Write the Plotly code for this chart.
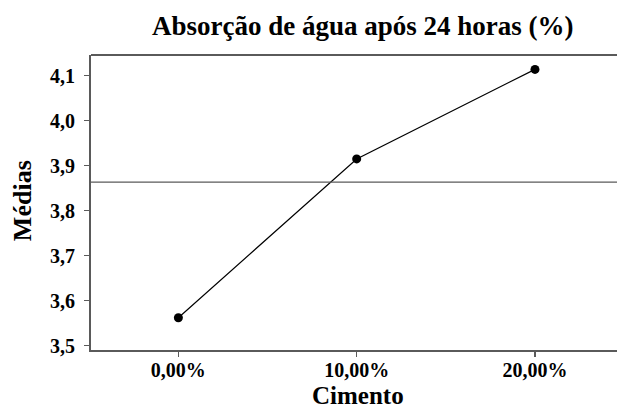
import plotly.graph_objects as go

categories = ["0,00%", "10,00%", "20,00%"]
medias = [3.562, 3.915, 4.114]
y_ticks = [3.5, 3.6, 3.7, 3.8, 3.9, 4.0, 4.1]
y_tick_labels = ["3,5", "3,6", "3,7", "3,8", "3,9", "4,0", "4,1"]

mean_all = sum(medias) / len(medias)

FONT = "Liberation Serif"
AX = "#5a5a5a"

fig = go.Figure()
fig.add_trace(go.Scatter(
    x=list(range(len(categories))), y=medias, mode="lines+markers",
    line=dict(color="black", width=1.2),
    marker=dict(color="black", size=9),
    showlegend=False, hoverinfo="skip",
))

fig.add_shape(type="line", xref="paper", yref="y", x0=0, x1=1,
              y0=mean_all, y1=mean_all, line=dict(color=AX, width=1.3))
fig.add_shape(type="line", xref="paper", yref="paper", x0=0, x1=1,
              y0=1, y1=1, line=dict(color=AX, width=2))

fig.add_annotation(text="<b>Médias</b>", xref="paper", yref="paper",
                   x=-0.1312, y=0.508, xanchor="center", yanchor="middle",
                   textangle=-90, showarrow=False,
                   font=dict(family=FONT, size=26, color="black"))
fig.add_annotation(text="<b>Cimento</b>", xref="paper", yref="paper",
                   x=0.508, y=-0.155, xanchor="center", yanchor="middle",
                   showarrow=False,
                   font=dict(family=FONT, size=25, color="black"))

fig.update_layout(
    width=617, height=410,
    margin=dict(l=91, r=0, t=55, b=60, autoexpand=False),
    paper_bgcolor="white", plot_bgcolor="white",
    font=dict(family=FONT, color="black"),
    title=dict(text="<b>Absorção de água após 24 horas (%)</b>",
               x=0.588, xanchor="center", xref="container",
               y=0.937, yanchor="middle", yref="container",
               font=dict(family=FONT, size=27, color="black")),
    xaxis=dict(
        range=[-0.49, 2.46],
        tickmode="array", tickvals=list(range(len(categories))),
        ticktext=["<b>%s</b>" % c for c in categories],
        tickfont=dict(family=FONT, size=20, color="black"),
        showgrid=False, zeroline=False,
        showline=True, linecolor=AX, linewidth=2,
        ticks="outside", ticklen=5, tickcolor=AX, tickwidth=1.5,
        ticklabelstandoff=-4,
        automargin=False,
    ),
    yaxis=dict(
        range=[3.4904, 4.146],
        tickmode="array", tickvals=y_ticks,
        ticktext=["<b>%s</b>" % t for t in y_tick_labels],
        tickfont=dict(family=FONT, size=20, color="black"),
        showgrid=False, zeroline=False,
        showline=True, linecolor=AX, linewidth=2,
        ticks="outside", ticklen=5, tickcolor=AX, tickwidth=1.5,
        ticklabelstandoff=5,
        automargin=False,
    ),
)

fig.write_html(
    "out.html",
    config={"displayModeBar": False, "staticPlot": True},
    post_script="document.body.style.margin='0px';document.body.style.overflow='hidden';",
)
